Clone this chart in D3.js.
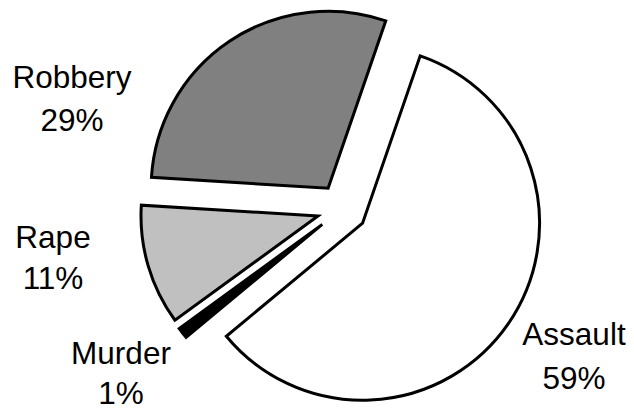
<!DOCTYPE html>
<html>
<head>
<meta charset="utf-8">
<script src="https://cdn.jsdelivr.net/npm/d3@7"></script>
<style>
  html, body { margin: 0; padding: 0; background: #fff; }
  svg { display: block; }
  text { font-family: "Liberation Sans", Arial, sans-serif; fill: #000; }
</style>
</head>
<body>
<svg id="chart" width="634" height="412"></svg>
<script>
// Data
const categories = ["Assault", "Murder", "Rape", "Robbery"];
const values = [58.7, 1.0, 11.0, 29.3];
const percentLabels = ["59%", "1%", "11%", "29%"];

// Styles / layout (kept apart from data)
const fills = ["#ffffff", "#000000", "#c0c0c0", "#808080"];
const labelPos = [
  { x: 574, y1: 345, y2: 389 },  // Assault
  { x: 121, y1: 364, y2: 404 },  // Murder
  { x: 53,  y1: 248, y2: 289 },  // Rape
  { x: 72,  y1: 88,  y2: 131 }   // Robbery
];

const cx = 342, cy = 209, radius = 177, explode = 25;
const startDeg = 19;

const svg = d3.select("#chart");
const g = svg.append("g").attr("transform", `translate(${cx},${cy})`);

const pie = d3.pie().sort(null).value(d => d.v)
  .startAngle(startDeg * Math.PI / 180)
  .endAngle(startDeg * Math.PI / 180 + 2 * Math.PI);
const arc = d3.arc().innerRadius(0).outerRadius(radius);

const data = categories.map((c, i) => ({ c, v: values[i], i }));
const arcs = pie(data);

g.selectAll("path.slice")
  .data(arcs)
  .join("path")
  .attr("class", "slice")
  .attr("d", arc)
  .attr("transform", d => {
    const mid = (d.startAngle + d.endAngle) / 2;
    return `translate(${explode * Math.sin(mid)},${-explode * Math.cos(mid)})`;
  })
  .attr("fill", d => fills[d.data.i])
  .attr("stroke", "#000")
  .attr("stroke-width", 3)
  .attr("stroke-linejoin", "miter");

const labels = svg.selectAll("g.lbl")
  .data(arcs)
  .join("g")
  .attr("class", "lbl");
labels.append("text")
  .attr("text-anchor", "middle")
  .attr("font-size", 31.5)
  .attr("x", d => labelPos[d.data.i].x)
  .attr("y", d => labelPos[d.data.i].y1)
  .text(d => d.data.c);
labels.append("text")
  .attr("text-anchor", "middle")
  .attr("font-size", 31.5)
  .attr("x", d => labelPos[d.data.i].x)
  .attr("y", d => labelPos[d.data.i].y2)
  .text(d => percentLabels[d.data.i]);
</script>
</body>
</html>
